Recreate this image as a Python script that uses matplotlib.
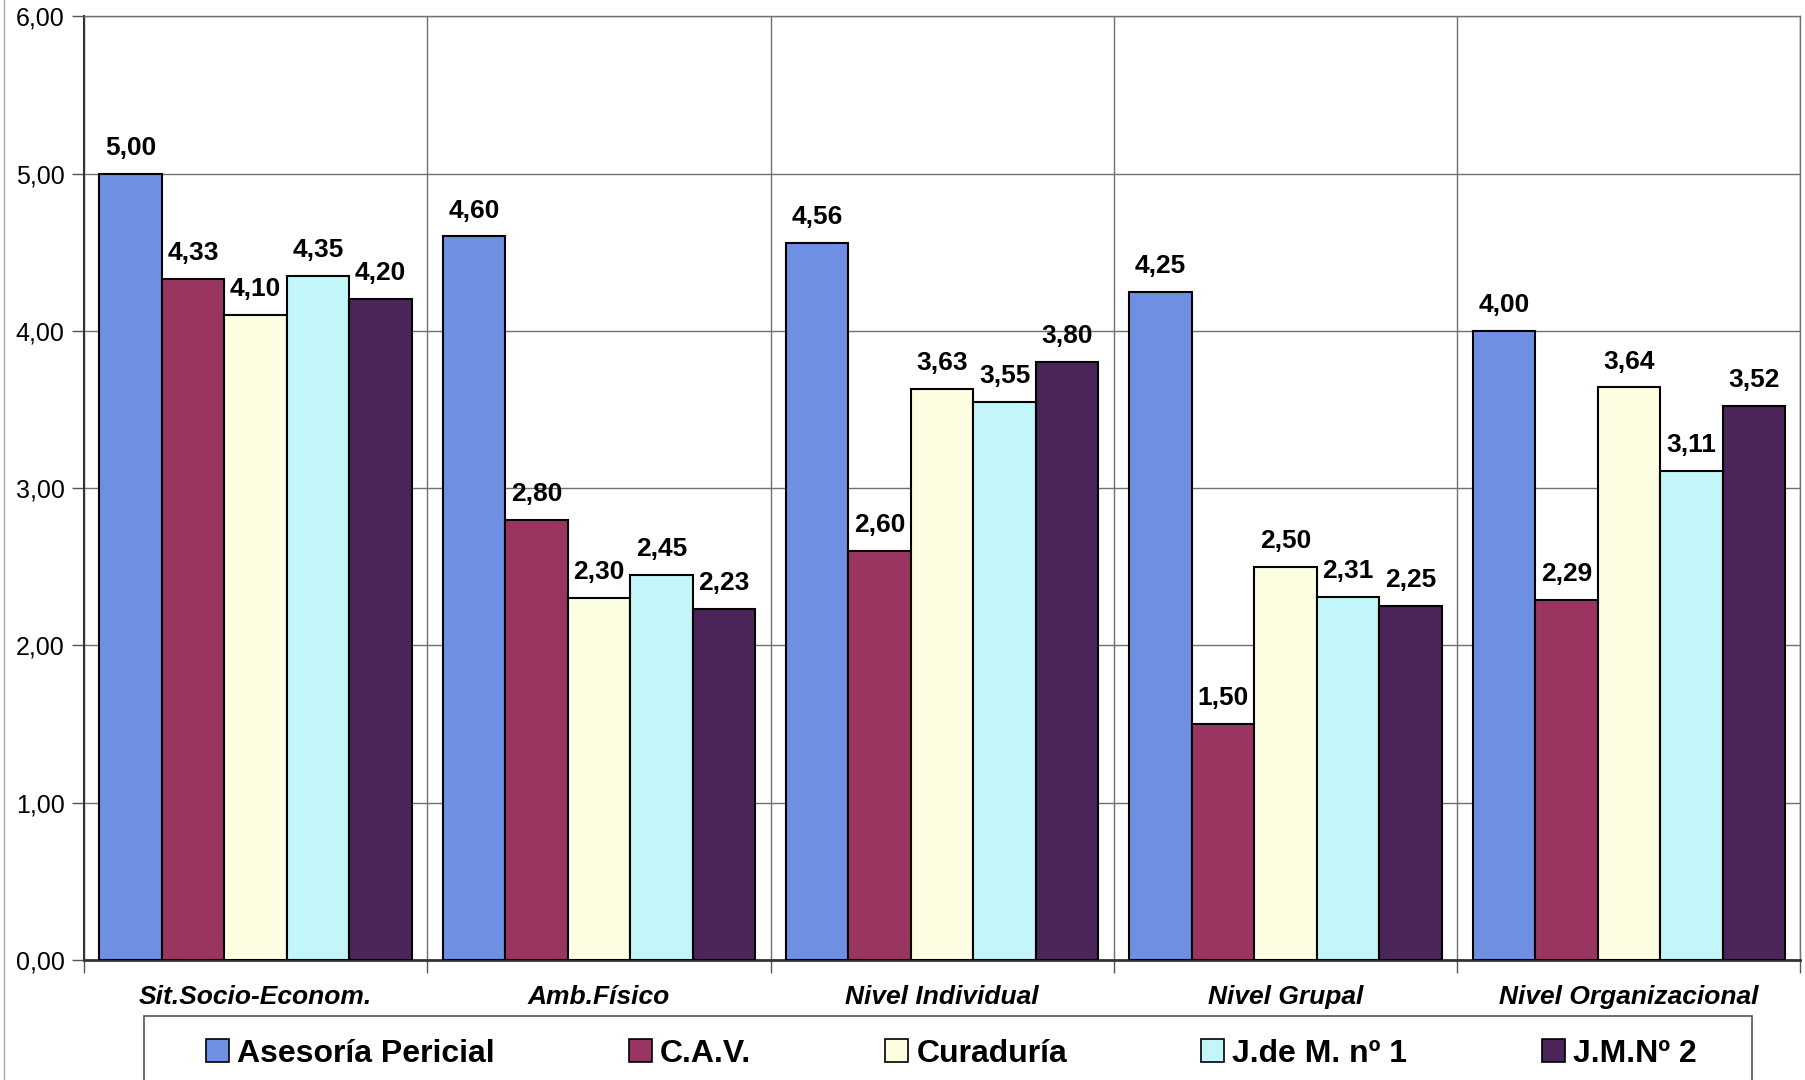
import matplotlib
matplotlib.use("Agg")
import matplotlib.pyplot as plt
import numpy as np
from matplotlib.patches import Patch, Rectangle
from matplotlib.lines import Line2D

categories = ["Sit.Socio-Econom.", "Amb.Físico", "Nivel Individual", "Nivel Grupal", "Nivel Organizacional"]
series_names = ["Asesoría Pericial", "C.A.V.", "Curaduría", "J.de M. nº 1", "J.M.Nº 2"]
asesoria = [5.00, 4.60, 4.56, 4.25, 4.00]
cav = [4.33, 2.80, 2.60, 1.50, 2.29]
curaduria = [4.10, 2.30, 3.63, 2.50, 3.64]
jdm1 = [4.35, 2.45, 3.55, 2.31, 3.11]
jmn2 = [4.20, 2.23, 3.80, 2.25, 3.52]
yticks = [0, 1, 2, 3, 4, 5, 6]
colors = ["#6f8fe2", "#9a3561", "#fdfde2", "#c2f6f9", "#4b2459"]

plt.rcParams['font.family'] = ['Liberation Sans', 'DejaVu Sans']

fig = plt.figure(figsize=(18.05, 10.8), dpi=100)
ax = fig.add_axes([0.0465, 0.111, 0.951, 0.874])

data = [asesoria, cav, curaduria, jdm1, jmn2]
x = np.arange(len(categories))
w = 0.182
for i, (vals, col) in enumerate(zip(data, colors)):
    pos = x + (i - 2) * w
    ax.bar(pos, vals, width=w, color=col, edgecolor="black", linewidth=1.5, zorder=3)
    for px, v in zip(pos, vals):
        ax.annotate(f"{v:.2f}".replace(".", ","), (px, v), xytext=(0, 10),
                    textcoords="offset points", ha="center", va="bottom",
                    fontsize=19, fontweight="bold", zorder=4)

ax.set_xlim(-0.5, len(categories) - 0.5)
ax.set_ylim(0, 6)
ax.set_yticks(yticks)
ax.set_yticklabels([f"{t:.2f}".replace(".", ",") for t in yticks], fontsize=18)
ax.set_xticks(np.arange(len(categories) + 1) - 0.5)
ax.set_xticklabels([])
ax.set_xticks(x, minor=True)
ax.set_xticklabels(categories, minor=True, fontsize=19, fontweight="bold", style="italic")
ax.tick_params(axis="x", which="minor", length=0, pad=18)
ax.tick_params(axis="x", which="major", length=9, width=1, color="#555555")
ax.tick_params(axis="y", length=9, width=1, color="#555555", pad=5)
ax.grid(axis="y", color="#707070", linewidth=1, zorder=0)
ax.grid(axis="x", which="major", color="#707070", linewidth=1, zorder=0)
for s in ["top", "right"]:
    ax.spines[s].set_color("#707070")
    ax.spines[s].set_linewidth(1)
ax.spines["left"].set_color("#333333")
ax.spines["left"].set_linewidth(1.5)
ax.spines["bottom"].set_color("#333333")
ax.spines["bottom"].set_linewidth(2)

# legend frame
fig.add_artist(Rectangle((0.0798, -0.01), 0.891, 0.0688, transform=fig.transFigure,
                         facecolor="white", edgecolor="#555555", linewidth=1.2))

handles = [Patch(facecolor=c, edgecolor="black", linewidth=1.2) for c in colors]
leg = fig.legend(handles, series_names, loc="center", ncol=5,
                 bbox_to_anchor=(0.527, 0.0245),
                 bbox_transform=fig.transFigure,
                 prop={"size": 23, "weight": "bold"}, frameon=False,
                 handlelength=0.72, handleheight=0.72, handletextpad=0.25,
                 columnspacing=4.2, borderpad=0.0, borderaxespad=0)

fig.add_artist(Line2D([0.002, 0.002], [0, 1], transform=fig.transFigure, color="#aaaaaa", linewidth=1))

fig.savefig("out.png", dpi=100)
